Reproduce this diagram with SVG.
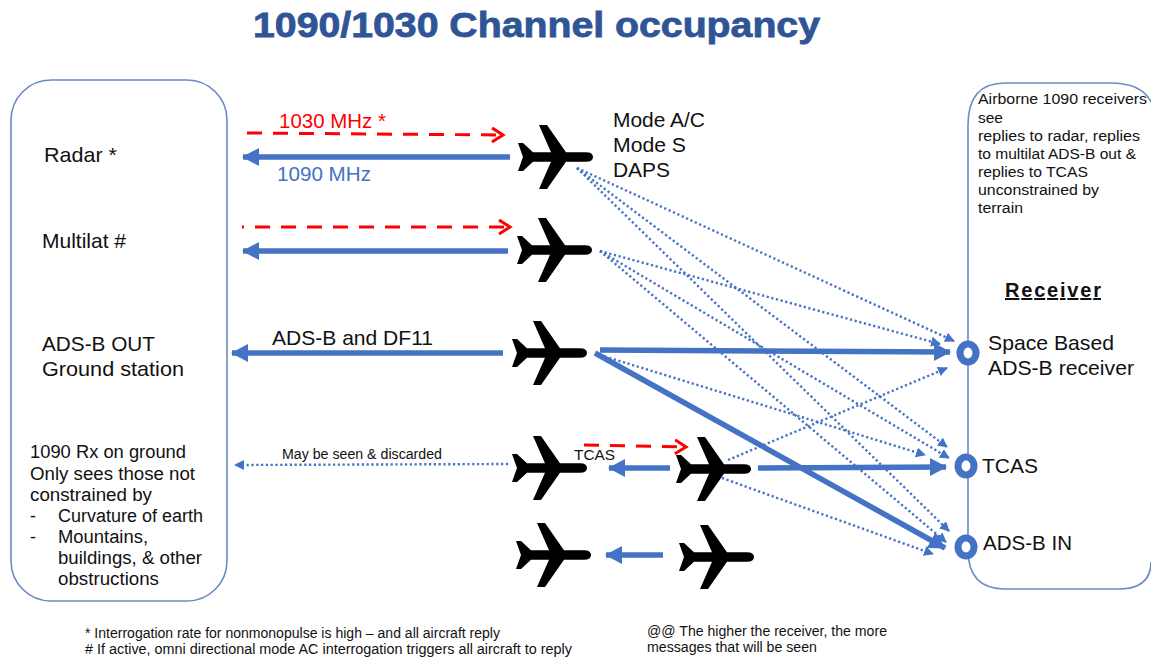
<svg xmlns="http://www.w3.org/2000/svg" width="1151" height="659" viewBox="0 0 1151 659">
<style>
text{font-family:"Liberation Sans",Arial,sans-serif;fill:#111}
.t20{font-size:21px}.t15{font-size:15.5px}.t13{font-size:14px}
.box{fill:#fff;stroke:#6a8bc3;stroke-width:1.6}
.blue{fill:none;stroke:#4472c4;stroke-width:5.5;marker-end:url(#bh)}
.red{fill:none;stroke:#f00;stroke-width:3;stroke-dasharray:15 11;marker-end:url(#rh)}
.dot{fill:none;stroke:#4472c4;stroke-width:2.4;stroke-dasharray:2.2 2.6;marker-end:url(#dh)}
.ring{fill:#fff;stroke:#4472c4;stroke-width:7}
</style>
<defs>
<marker id="bh" markerUnits="userSpaceOnUse" markerWidth="20" markerHeight="20" refX="16" refY="9" orient="auto"><path d="M0,0L17,9L0,18Z" fill="#4472c4"/></marker>
<marker id="rh" markerUnits="userSpaceOnUse" markerWidth="18" markerHeight="18" refX="13" refY="8" orient="auto"><path d="M2,1L13,8L2,15" fill="none" stroke="#f00" stroke-width="3"/></marker>
<marker id="dh" markerUnits="userSpaceOnUse" markerWidth="12" markerHeight="12" refX="9" refY="5" orient="auto"><path d="M0,0L10,5L0,10Z" fill="#4472c4"/></marker>
<path id="plane" d="M0,-14L5,-14L15,-4.7L33,-4.7L21,-32L29,-32L48,-4.7L68,-4.7Q75,-4.7 75,0Q75,4.7 68,4.7L48,4.7L29,32L21,32L33,4.7L15,4.7L5,14L0,14L5,0Z" fill="#000"/>
</defs>
<rect width="1151" height="659" fill="#fff"/>
<text id="title" x="253" y="37" font-size="35" font-weight="bold" textLength="567" lengthAdjust="spacingAndGlyphs" stroke="#2f5597" stroke-width="0.8" style="fill:#2f5597">1090/1030 Channel occupancy</text>
<g id="ground-box"><rect class="box" x="11" y="80" width="216" height="521" rx="40"/>
<text class="t20" x="44" y="162" textLength="73" lengthAdjust="spacingAndGlyphs">Radar *</text>
<text class="t20" x="42" y="248" textLength="84" lengthAdjust="spacingAndGlyphs">Multilat #</text>
<text class="t20" x="42" y="351" textLength="113" lengthAdjust="spacingAndGlyphs">ADS-B OUT</text>
<text class="t20" x="42" y="376" textLength="142" lengthAdjust="spacingAndGlyphs">Ground station</text>
<g style="font-size:18px"><text x="30" y="458" textLength="156" lengthAdjust="spacingAndGlyphs">1090 Rx on ground</text>
<text x="30" y="480" textLength="165" lengthAdjust="spacingAndGlyphs">Only sees those not</text>
<text x="30" y="501" textLength="122" lengthAdjust="spacingAndGlyphs">constrained by</text>
<text x="30" y="522">-</text><text x="58" y="522" textLength="145" lengthAdjust="spacingAndGlyphs">Curvature of earth</text>
<text x="30" y="543">-</text><text x="58" y="543" textLength="90" lengthAdjust="spacingAndGlyphs">Mountains,</text>
<text x="58" y="564" textLength="144" lengthAdjust="spacingAndGlyphs">buildings, &amp; other</text>
<text x="58" y="585" textLength="101" lengthAdjust="spacingAndGlyphs">obstructions</text></g></g>
<g id="receiver-box"><path class="box" d="M1151,102Q1142,83 1110,83L1005,83Q968,83 968,125L968,550Q968,589 1005,589L1118,589Q1151,589 1151,562"/>
<g class="t15"><text x="978" y="104" textLength="169" lengthAdjust="spacingAndGlyphs">Airborne 1090 receivers</text>
<text x="978" y="123">see</text>
<text x="978" y="141" textLength="162" lengthAdjust="spacingAndGlyphs">replies to radar, replies</text>
<text x="978" y="159" textLength="158" lengthAdjust="spacingAndGlyphs">to multilat ADS-B out &amp;</text>
<text x="978" y="177" textLength="110" lengthAdjust="spacingAndGlyphs">replies to TCAS</text>
<text x="978" y="195" textLength="121" lengthAdjust="spacingAndGlyphs">unconstrained by</text>
<text x="978" y="213" textLength="45" lengthAdjust="spacingAndGlyphs">terrain</text></g>
<text x="1005" y="297" font-size="20" font-weight="bold" text-decoration="underline" textLength="96">Receiver</text></g>
<g id="connectors">
<path class="red" d="M247,133L503,135"/>
<path class="blue" d="M510,157L243,157"/>
<path class="red" d="M242,227L510,227" stroke-dashoffset="13"/>
<path class="blue" d="M508,251L243,251"/>
<path class="blue" d="M503,353L232,353"/>
<path class="dot" d="M508,464L235,465"/>
<path class="red" d="M584,445L686,447"/>
<path class="blue" d="M670,468L609,468"/>
<path class="blue" d="M663,555L606,555"/>
<path class="blue" d="M758,468L946,467"/>
<path class="blue" d="M600,350L950,352"/>
<path class="blue" d="M595,353L945,548"/>
<path class="dot" d="M577,168L954,341"/>
<path class="dot" d="M577,168L947,447"/>
<path class="dot" d="M577,168L949,531"/>
<path class="dot" d="M600,251L940,344"/>
<path class="dot" d="M600,251L949,458"/>
<path class="dot" d="M600,251L946,542"/>
<path class="dot" d="M600,355L925,455"/>
<path class="dot" d="M728,460L947,368"/>
<path class="dot" d="M722,478L933,554"/>
</g>
<g id="plane-1"><use href="#plane" x="518" y="157"/></g>
<g id="plane-2"><use href="#plane" x="517" y="250"/></g>
<g id="plane-3"><use href="#plane" x="512" y="353"/></g>
<g id="plane-4"><use href="#plane" x="512" y="468"/></g>
<g id="plane-5"><use href="#plane" x="676" y="469"/></g>
<g id="plane-6"><use href="#plane" x="516" y="555"/></g>
<g id="plane-7"><use href="#plane" x="679" y="557"/></g>
<g id="receiver-space"><ellipse class="ring" cx="968" cy="353" rx="8" ry="9"/><text class="t20" x="988" y="350" textLength="126" lengthAdjust="spacingAndGlyphs">Space Based</text><text class="t20" x="988" y="375" textLength="146" lengthAdjust="spacingAndGlyphs">ADS-B receiver</text></g>
<g id="receiver-tcas"><ellipse class="ring" cx="966" cy="466" rx="8" ry="9"/><text class="t20" x="982" y="473" textLength="56" lengthAdjust="spacingAndGlyphs">TCAS</text></g>
<g id="receiver-adsb"><ellipse class="ring" cx="966" cy="547" rx="8" ry="9"/><text class="t20" x="983" y="550" textLength="89" lengthAdjust="spacingAndGlyphs">ADS-B IN</text></g>
<g id="labels">
<text class="t20" x="279" y="128" textLength="107" lengthAdjust="spacingAndGlyphs" style="fill:#f00">1030 MHz *</text>
<text class="t20" x="277" y="181" textLength="94" lengthAdjust="spacingAndGlyphs" style="fill:#4472c4">1090 MHz</text>
<text class="t20" x="272" y="345" textLength="161" lengthAdjust="spacingAndGlyphs">ADS-B and DF11</text>
<text class="t13" x="282" y="459" textLength="160" lengthAdjust="spacingAndGlyphs">May be seen &amp; discarded</text>
<text x="574" y="460" font-size="15" textLength="41" lengthAdjust="spacingAndGlyphs">TCAS</text>
<text class="t20" x="613" y="127" textLength="92" lengthAdjust="spacingAndGlyphs">Mode A/C</text>
<text class="t20" x="613" y="152" textLength="73" lengthAdjust="spacingAndGlyphs">Mode S</text>
<text class="t20" x="613" y="177" textLength="57" lengthAdjust="spacingAndGlyphs">DAPS</text>
<text class="t13" x="85" y="638" textLength="415" lengthAdjust="spacingAndGlyphs">* Interrogation rate for nonmonopulse is high – and all aircraft reply</text>
<text class="t13" x="85" y="654" textLength="487" lengthAdjust="spacingAndGlyphs"># If active, omni directional mode AC interrogation triggers all aircraft to reply</text>
<text class="t13" x="647" y="636" textLength="240" lengthAdjust="spacingAndGlyphs">@@ The higher the receiver, the more</text>
<text class="t13" x="647" y="652" textLength="170" lengthAdjust="spacingAndGlyphs">messages that will be seen</text>
</g>
</svg>
